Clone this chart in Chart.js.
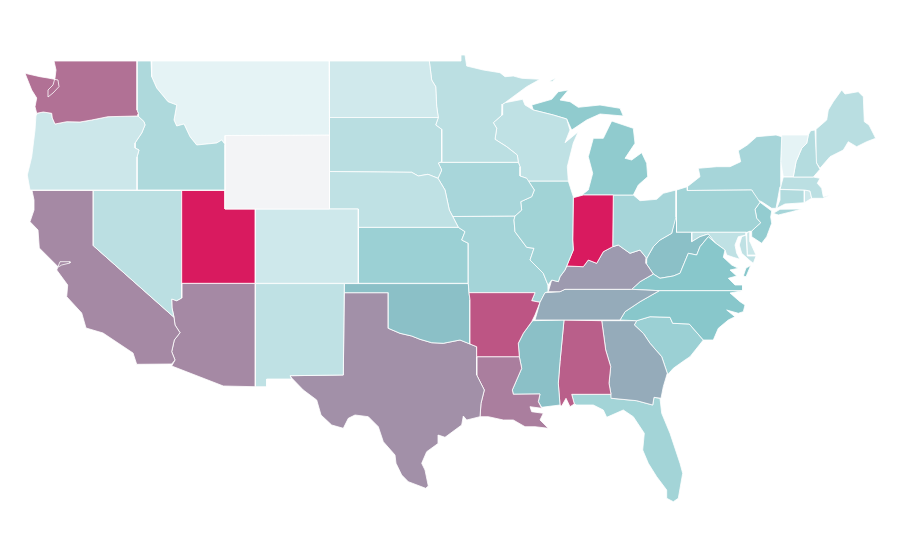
<!DOCTYPE html>
<html lang="en">
<head>
<meta charset="utf-8">
<title>US states choropleth</title>
<script src="https://cdn.jsdelivr.net/npm/chart.js@4.4.4/dist/chart.umd.js"></script>
<style>
  html, body { margin: 0; padding: 0; background: #fff; }
  #mapa { display: block; }
</style>
</head>
<body>
<canvas id="mapa" width="900" height="560"></canvas>
<script>
/* ── State values ── */
const stateNames = ['WA','OR','ID','MT','WY','UT','NV','CA','AZ','NM','CO','NE','SD','ND','MN','IA','WI','IL','IN','MI','OH','KY','TN','NC','VA','WV','MD','DE','PA','NY','NJ','VT','NH','ME','MA','CT','RI','AR','MO','KS','OK','TX','LA','MS','AL','GA','SC','FL'];
const stateValues = [75,14,30,1,0,100,23,68,68,21,13,21,24,12,23,33,21,37,100,46,34,63,58,50,50,52,21,16,37,34,44,1,27,24,23,28,13,83,35,40,52,66,71,52,80,58,40,36];

/* ── Outlines, in map units ── */
const wa = [[54,61],[137,61],[137,110],[138.5,114],[138,116],[108,116.7],[91.7,120],[80,122],[66.7,121.7],[55,124],[52.3,118],[51.7,113.3],[43.3,112],[36.7,113.3],[35,106.7],[36.7,98],[31.7,90],[25,73.3],[40,76.7],[48,78],[58,80],[59,86.7],[53,93],[48,97],[48,90],[53,85],[55,78],[56,70]];
const or = [[36,115],[36.7,113.3],[43.3,112],[51.7,113.3],[52.3,118],[55,124],[66.7,121.7],[80,122],[91.7,120],[108,116.7],[138,116],[144,121.7],[145,125],[141.7,133],[135,143],[135,148],[139,150],[137,157],[137,190],[30,190],[27.3,175],[31.7,157],[35,130]];
const id = [[137,61],[151,61],[151.7,76.7],[156.7,88],[168,101.7],[176.7,105],[174,120],[176.7,126],[184,124],[190,136.7],[196.7,145],[216.7,143],[221.7,140],[225,144.3],[225,190],[137,190],[137,157],[139,150],[135,148],[135,143],[141.7,133],[145,125],[144,121.7],[138,116],[138.5,114],[137,110]];
const mt = [[151,61],[329,61],[329.5,135],[225,135.5],[225,144.3],[221.7,140],[216.7,143],[196.7,145],[190,136.7],[184,124],[176.7,126],[174,120],[176.7,105],[168,101.7],[156.7,88],[151.7,76.7]];
const wy = [[225,135.5],[329.5,135],[329.5,209],[225,209]];
const ut = [[181.7,190.5],[225,190.5],[225,209],[255.3,209],[255.3,283.3],[181.7,283.3]];
const nv = [[93.3,190.5],[181.7,190.5],[181.7,298],[176.7,300.7],[171.7,299],[172,308],[174,317.3],[93.3,245.7]];
const ca = [[32,190.5],[93.3,190.5],[93.3,245.7],[174,317.3],[175,325],[180,332.7],[174.3,340],[171.7,351.7],[175,360],[171.7,364],[136.7,364.3],[133,353],[118,343],[103,333],[86,328],[81.7,313],[66.7,296.7],[67.7,285],[56.7,270],[60,261.7],[70,261.7],[70,263],[61.7,265],[58.3,267],[39.3,248],[38,230],[30,221.7],[34,210],[34,200]];
const az = [[181.7,283.3],[255.3,283.3],[255.3,386.7],[223.3,386],[171.7,366],[175,360],[171.7,351.7],[174.3,340],[180,332.7],[175,325],[174,317.3],[172,308],[171.7,299],[176.7,300.7],[181.7,298]];
const nm = [[255.3,283.6],[344.3,283.6],[343.3,375],[290,375.7],[291.7,379],[266.7,379],[266.7,386.7],[255.3,386.7]];
const co = [[255.3,209],[358.3,209],[358.3,283.3],[255.3,283.3]];
const ne = [[329.5,171.5],[411.7,172.3],[418.3,176],[428,174.3],[438,178.3],[445,190],[449.3,210],[458.3,227.3],[358.3,227.3],[358.3,209],[329.5,209]];
const sd = [[329.5,117.5],[438.3,117.5],[435.7,125],[441.7,129.3],[441.7,161.7],[438.3,163],[441.7,170],[438,178.3],[428,174.3],[418.3,176],[411.7,172.3],[329.5,171.5]];
const nd = [[329.5,61],[429.3,61],[431.7,80],[435.7,86.7],[436.7,106.7],[438.3,117.5],[329.5,117.5]];
const mn = [[429.3,61],[461,61],[461,55],[465,55],[466.7,66],[483.3,70],[500,72.7],[505,76.7],[513.3,76],[521.7,78.3],[540,79.3],[526.7,86.7],[505,102.7],[502.7,104],[502,115],[493.3,122.7],[496.7,128.3],[495,139.3],[506.7,146.7],[517.3,155],[518.3,162.3],[441.7,162.3],[441.7,129.3],[435.7,125],[438.3,117.5],[436.7,106.7],[435.7,86.7],[431.7,80]];
const ia = [[441,162.3],[518.3,162.3],[520,166.7],[520,176],[526.7,178.3],[534.3,190],[531.7,196.7],[520.7,201.7],[521.7,210],[515,216],[452.7,216.5],[449.3,210],[445,190],[438,178.3],[441.7,170],[438.3,163]];
const wi = [[502.7,104],[505,102.7],[522.7,99.3],[525,105],[533.3,110],[553.3,115],[566.7,119],[570,130],[565,142.7],[578.3,131.7],[573.3,143],[567.3,166.7],[568.3,181],[526.7,181],[526.7,178.3],[520,176],[520,166.7],[518.3,162.3],[517.3,155],[506.7,146.7],[495,139.3],[496.7,128.3],[493.3,122.7],[502,115]];
const il = [[526.7,181],[568.3,181],[573.3,196.7],[572.7,240],[573.3,250],[566.7,266],[565,270],[560,276.7],[558.3,281.7],[551.7,280],[548,285],[543.3,273.3],[530,260],[534,248.3],[526.7,247.3],[515,231.7],[514,220],[515,216],[521.7,210],[520.7,201.7],[531.7,196.7],[534.3,190],[526.7,178.3]];
const inn = [[573.3,197.7],[583.3,195],[613.3,195],[612.7,246.7],[603.3,251.7],[596.7,263.3],[588.3,260],[583.3,266.7],[566.7,266],[573.3,250],[572.7,240]];
const miLower = [[581.7,195],[588.3,190],[592.7,173.3],[588.3,156.7],[593.3,138.3],[603.3,138.3],[611.7,121],[633.3,128.3],[635,143.3],[625,158.3],[631.7,160],[641.7,152.7],[646.7,163.3],[647.7,176.7],[638.3,185],[633.3,195]];
const miUpper = [[531.7,105],[551.7,99.3],[558.3,91.7],[568.3,90],[560,100],[570,101.7],[578.3,107.3],[600,105],[620,108.3],[623.3,116],[600,114],[586.7,120],[571.7,130],[566.7,119],[553.3,115],[533.3,110]];
const miIsle = [[549,81.5],[556,78],[552,81.5]];
const oh = [[613.3,195],[633.3,195],[640,200.7],[656.7,199.3],[663.3,193.3],[676,190],[676,217],[671.7,233.3],[660,240],[653.3,246.7],[646.7,258.3],[640,250],[630,253.3],[618.3,245],[612.7,246.7]];
const ky = [[612.7,246.7],[618.3,245],[630,253.3],[640,250],[646.7,258.3],[646,263.3],[653.3,274],[640,281.7],[631.7,289.3],[565,289.3],[560,291.7],[548.3,291.7],[551.7,280],[558.3,281.7],[560,276.7],[565,270],[566.7,266],[583.3,266.7],[588.3,260],[596.7,263.3],[603.3,251.7]];
const tn = [[545,292.7],[560,291.7],[565,289.3],[631.7,289.3],[659.3,290.7],[640,301.7],[625,311.7],[620,320],[535,320],[540,302.3]];
const nc = [[659.3,290.7],[742.7,290.7],[730,293],[740,301.7],[745,305],[743.3,311.7],[738.3,313.3],[726.7,310],[735,316.7],[728.3,320],[718.3,328.3],[713.3,340],[703.3,340],[689.3,324],[672.7,323.3],[670,317.3],[650,316.7],[636.7,320.7],[620,320],[625,311.7],[640,301.7]];
const va = [[631.7,289.3],[640,281.7],[653.3,274],[660,278.3],[673.3,276],[680,273.3],[688.3,253.3],[696.7,255],[700,246.7],[708.3,236.7],[715,242.7],[725,250],[723.3,257.3],[731.7,265],[738.3,268.3],[730,270],[736.7,276],[728.3,278.3],[735,285],[742.7,285],[742.7,290.7],[659.3,290.7]];
const vaShore = [[750.7,265.5],[746,276.7],[743.3,276],[746,268]];
const wv = [[646.7,258.3],[653.3,246.7],[660,240],[671.7,233.3],[675,217],[676.5,217],[676.5,232.3],[691.7,232.3],[691.7,241.7],[700,236.7],[708.3,234],[715,242.7],[708.3,236.7],[700,246.7],[696.7,255],[688.3,253.3],[680,273.3],[673.3,276],[660,278.3],[653.3,274],[646,263.3]];
const md = [[691.7,232.3],[746,232.3],[746,235],[738.3,236.7],[735,245],[736.7,253.3],[740,259.3],[733.3,257.3],[726.7,255],[725,250],[715,242.7],[708.3,234],[700,236.7],[691.7,241.7]];
const mdShore = [[741.7,236.7],[746,235],[747.3,256],[756,256],[753.3,263.3],[750,260.7],[741.7,253.3],[739.3,245]];
const de = [[746.7,233.3],[750,231],[750,241.7],[756,255],[747.3,255]];
const pa = [[676.5,190],[687.3,186.7],[687.3,190.5],[751.7,190],[760,202.3],[755,209.3],[756.7,218.3],[760.7,222.7],[751.7,231],[746.7,232.3],[676.5,232.3]];
const ny = [[687.3,186.7],[687.3,190.5],[751.7,190],[757.3,200],[761.7,201.7],[771.7,208.3],[776,208.3],[780,186.7],[780.7,161.7],[781.7,136.7],[776,135],[756.7,136.7],[747.3,145],[738.3,150.7],[740.7,161.7],[730,166.7],[716.7,166.7],[698.3,168.3],[700,176.7]];
const nyIsland = [[773.3,213.3],[780,209.3],[801.7,209],[791.7,211.7],[778.3,215]];
const nj = [[760,202.3],[771.7,211],[770.7,217],[771.7,223.3],[766.7,236.7],[761.7,243.3],[751.7,236.7],[751.7,231],[760.7,222.7],[756.7,218.3],[755,209.3]];
const vt = [[781.7,135],[808.3,135],[806.7,143.3],[801.7,148.3],[796,161.7],[793.3,176.7],[783.3,176.7],[780.7,161.7]];
const nh = [[808.3,135],[810.7,130.7],[815,130],[816.5,163],[820,169.3],[813.3,177],[793.3,177],[796,161.7],[801.7,148.3],[806.7,143.3]];
const me = [[816,129.3],[826.7,120],[828.3,110],[833.3,101.7],[841.7,90],[845,94],[858.3,91.7],[863.3,96.7],[864.3,121.7],[869,125],[875.7,138.3],[866.7,141.7],[856.7,146.7],[848.3,141.7],[843.3,150],[830,156.7],[820,168.3],[816.5,163]];
const ma = [[783.3,177],[813.3,177],[820,178.3],[817.3,183.3],[821.7,188.3],[823.3,196.7],[830.7,195],[822.7,198.3],[811.7,198.3],[810,191],[804.3,190],[780,189.3]];
const ct = [[780,189.5],[804.3,190],[804.3,202.7],[785,204],[776.7,208.3],[780,200]];
const ri = [[804.3,190],[810,191],[811.7,198.3],[804.3,202.7]];
const ar = [[469,292.7],[535,292.7],[531.7,300.7],[540,302.3],[535,315],[531.7,321.7],[523.3,333.3],[518.3,343.3],[519.3,356.7],[476.7,356.7],[476.7,346.7],[470,344],[470,300]];
const mo = [[452.7,216.5],[515,216],[514,220],[515,231.7],[526.7,247.3],[534,248.3],[530,260],[543.3,273.3],[548,285],[548.3,291.7],[545,292.7],[540,302.3],[531.7,300.7],[535,292.7],[469,292.7],[468.3,283.3],[468.3,243.3],[461.7,240],[465,231.7],[458.3,227.3]];
const ks = [[358.3,227.3],[458.3,227.3],[465,231.7],[461.7,240],[468.3,243.3],[468.3,283.3],[358.3,283.3]];
const ok = [[344.3,283.6],[468.3,283.6],[469,292.7],[470,300],[470,344],[460,340],[443.3,343.3],[431.7,342.7],[420,339.3],[411.7,336],[400,333.3],[388.3,328.3],[388.3,292.7],[344.3,292.7]];
const tx = [[344.3,292.7],[388.3,292.7],[388.3,328.3],[400,333.3],[411.7,336],[420,339.3],[431.7,342.7],[443.3,343.3],[460,340],[470,344],[476.7,346.7],[476.7,375],[484.3,390],[481,403.3],[480,416.7],[466.7,420],[463.3,416],[461.7,425],[445,437.3],[438.3,435],[438.3,443.3],[426.7,451.7],[421.7,463.3],[425,470],[428.3,486],[425.7,488.3],[408.3,481.7],[401.7,475],[396,463.3],[395,455],[383.3,441.7],[378.3,426.7],[368.3,416.7],[355,415],[348.3,418.3],[343.3,428.3],[331.7,425],[321,415],[316.7,400],[303.3,390],[291.7,378],[290,375.7],[343.3,375]];
const la = [[476.7,356.7],[519.3,356.7],[521.7,368.3],[512.3,390],[513.3,394.3],[540,394],[538.3,401.7],[541.7,408.3],[530,406.7],[531.7,411.7],[543.3,413.3],[540,420],[548.3,428.3],[535,426.7],[525,426.7],[513.3,420],[503.3,420],[488.3,416.7],[480,416.7],[481,403.3],[484.3,390],[476.7,375]];
const ms = [[532.7,320.7],[564,320],[560,361.7],[558.3,383.3],[560,405],[541.7,407.3],[538.3,401.7],[540,394],[513.3,394.3],[512.3,390],[521.7,368.3],[519.3,356.7],[518.3,343.3],[523.3,333.3]];
const al = [[564,320],[601.7,320.7],[605.7,350],[610.7,366.7],[609,383.3],[611,394.3],[571.7,394.3],[574.3,404],[570,406.7],[566,398.3],[561.7,406],[560,405],[558.3,383.3],[560,361.7]];
const ga = [[601.7,320.7],[636.7,320.7],[634.3,325],[643.3,333.3],[650,343.3],[661.7,356.7],[667.3,373.3],[663.3,386.7],[661,398.3],[654,397.3],[652.7,405],[636.7,400.7],[611.7,398.3],[611,394.3],[609,383.3],[610.7,366.7],[605.7,350]];
const sc = [[636.7,320.7],[650,316.7],[670,317.3],[672.7,323.3],[689.3,324],[703.3,340],[690,356.7],[685,360],[673.3,368.3],[668.3,374],[667.3,373.3],[661.7,356.7],[650,343.3],[643.3,333.3],[634.3,325]];
const fl = [[571.7,394.3],[611,394.3],[611.7,398.3],[636.7,400.7],[652.7,405],[654,397.3],[660,398.3],[661.7,413.3],[670,433.3],[680,463.3],[682.7,473.3],[678.3,498.3],[673.3,501.7],[666.7,498.3],[666.7,490],[656.7,476.7],[648.3,463.3],[642.7,450],[644.3,433.3],[633.3,416.7],[623.3,410],[606.7,417.3],[603.3,410],[593.3,405],[576.7,405],[574.3,404]];

/* Same order as stateNames; some states have more than one ring */
const stateRings = [[wa],[or],[id],[mt],[wy],[ut],[nv],[ca],[az],[nm],[co],[ne],[sd],[nd],[mn],[ia],[wi],[il],[inn],[miLower,miUpper,miIsle],[oh],[ky],[tn],[nc],[va,vaShore],[wv],[md,mdShore],[de],[pa],[ny,nyIsland],[nj],[vt],[nh],[me],[ma],[ct],[ri],[ar],[mo],[ks],[ok],[tx],[la],[ms],[al],[ga],[sc],[fl]];

/* ── Colour ramp: no value → pale teal → teal → crimson ── */
function corDoValor(v) {
  const paradas = [[0,[243,244,246]],[1,[229,243,245]],[50,[136,199,203]],[100,[217,26,95]]];
  for (let i = 1; i < paradas.length; i++) {
    const [v0, c0] = paradas[i - 1];
    const [v1, c1] = paradas[i];
    if (v <= v1) {
      const t = (v - v0) / (v1 - v0);
      const c = c0.map((k, j) => Math.round(k + (c1[j] - k) * t));
      return 'rgb(' + c.join(',') + ')';
    }
  }
  return 'rgb(217,26,95)';
}

const datasets = [];
stateNames.forEach(function (nome, i) {
  stateRings[i].forEach(function (anel) {
    const pontos = anel.concat([anel[0]]).map(p => ({ x: p[0], y: p[1] }));
    datasets.push({
      label: nome,
      data: pontos,
      showLine: true,
      fill: 'shape',
      tension: 0,
      backgroundColor: corDoValor(stateValues[i]),
      borderColor: '#fff',
      borderWidth: 0.8,
      pointRadius: 0,
      pointHoverRadius: 0
    });
  });
});

new Chart(document.getElementById('mapa').getContext('2d'), {
  type: 'scatter',
  data: { datasets: datasets },
  options: {
    responsive: false,
    animation: false,
    layout: { padding: 0 },
    plugins: { legend: { display: false }, tooltip: { enabled: false } },
    scales: {
      x: { type: 'linear', display: false, min: 0, max: 900 },
      y: { type: 'linear', display: false, min: 0, max: 560, reverse: true }
    }
  }
});
</script>
</body>
</html>
